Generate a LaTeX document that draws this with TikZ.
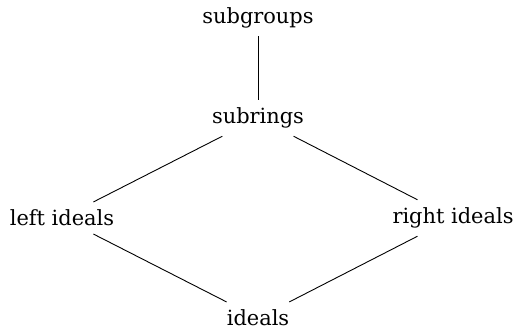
\documentclass[tikz,border=0pt]{standalone}
\usepackage{fontspec}
\setmainfont{DejaVu Serif}
\begin{document}
\begin{tikzpicture}[x=1bp,y=1bp,line width=0.9bp,
    every node/.style={font=\fontsize{21}{25}\selectfont, inner xsep=11bp, inner ysep=7.5bp, anchor=center}]
  \useasboundingbox (0,0) rectangle (515,335);
  % Lattice of substructures
  \node (sg) at (258,317) {subgroups};
  \node (sr) at (258,217) {subrings};
  \node (li) at (62,117) {left ideals};
  \node (ri) at (453,117) {right ideals};
  \node (id) at (258,17) {ideals};

  % Inclusions
  \draw (sg) -- (sr);
  \draw (sr) -- (li);
  \draw (sr) -- (ri);
  \draw (li) -- (id);
  \draw (ri) -- (id);
\end{tikzpicture}
\end{document}
